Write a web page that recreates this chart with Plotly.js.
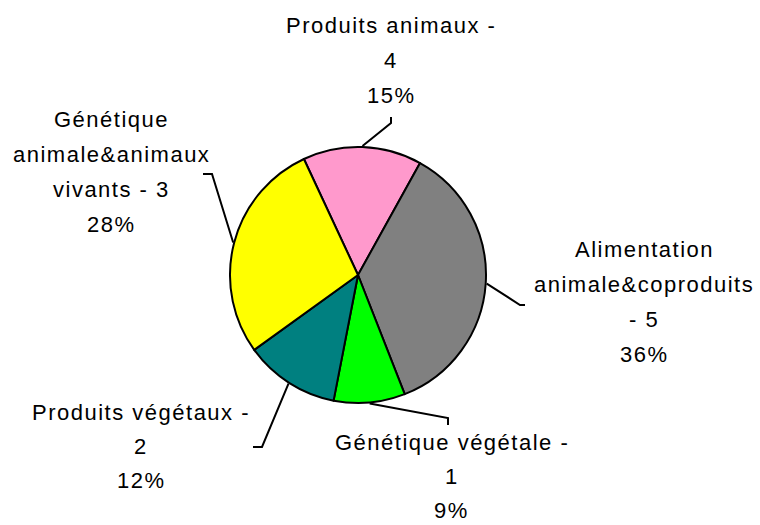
<!DOCTYPE html>
<html>
<head>
<meta charset="utf-8">
<script src="https://cdn.plot.ly/plotly-3.0.1.min.js"></script>
<style>
  html, body { margin: 0; padding: 0; background: #fff; }
  #chart { width: 760px; height: 525px; }
  .annotation-text { letter-spacing: 1.5px; }
</style>
</head>
<body>
<div id="chart"></div>
<script>
// ---- data ----
var categories = ["Produits animaux", "Alimentation animale&coproduits", "Génétique végétale", "Produits végétaux", "Génétique animale&animaux vivants"];
var codes = [4, 5, 1, 2, 3];
var values = [15, 36, 9, 12, 28];
var colors = ["#FF99CC", "#808080", "#00FF00", "#008080", "#FFFF00"];
// wrapped label lines (text as wrapped in the picture, without the percentage)
var labelLines = [
  ["Produits animaux -", "4"],
  ["Alimentation", "animale&coproduits", "- 5"],
  ["Génétique végétale -", "1"],
  ["Produits végétaux -", "2"],
  ["Génétique", "animale&animaux", "vivants - 3"]
];

// ---- layout constants (pixels) ----
var W = 760, H = 525;
var CX = 358, CY = 275, R = 128;      // pie centre & radius
var ROT = -25;                          // start angle of first slice (deg, clockwise from 12 o'clock)
// label anchor: text centre x, first baseline y, line step; leader elbow and end points
var labelPos = [
  {x: 391, y: 33,  step: 35,   elbow: [391, 123], end: [391, 117]},
  {x: 644, y: 257, step: 35,   elbow: [520, 305], end: [525, 305]},
  {x: 452, y: 450, step: 34,   elbow: [448, 418], end: [448, 425]},
  {x: 141, y: 420, step: 34,   elbow: [262, 447], end: [253, 447]},
  {x: 112, y: 127, step: 35,   elbow: [212, 174], end: [203, 174]}
];

function px(x) { return x / W; }
function py(y) { return 1 - y / H; }

var total = values.reduce(function (a, b) { return a + b; }, 0);
var annotations = [];
var shapes = [];
var cum = 0;
for (var i = 0; i < values.length; i++) {
  var mid = ROT + (cum + values[i] / 2) / total * 360;
  cum += values[i];
  var a = mid * Math.PI / 180;
  var ex = CX + (R + 1) * Math.sin(a);
  var ey = CY - (R + 1) * Math.cos(a);
  var lp = labelPos[i];
  shapes.push({
    type: 'path', xref: 'paper', yref: 'paper',
    path: 'M ' + px(ex) + ' ' + py(ey) + ' L ' + px(lp.elbow[0]) + ' ' + py(lp.elbow[1]) +
          ' L ' + px(lp.end[0]) + ' ' + py(lp.end[1]),
    line: {color: '#000', width: 2}
  });
  var lines = labelLines[i].concat([Math.round(values[i] / total * 100) + '%']);
  for (var j = 0; j < lines.length; j++) {
    var base = lp.y + j * lp.step;
    annotations.push({
      xref: 'paper', yref: 'paper',
      x: px(lp.x), y: py(base - 7.6),
      xanchor: 'center', yanchor: 'middle',
      text: lines[j], showarrow: false, borderpad: 0,
      font: {family: '"Liberation Sans", Arial, sans-serif', size: 22, color: '#000'}
    });
  }
}

var trace = {
  type: 'pie',
  labels: categories,
  values: values,
  sort: false,
  direction: 'clockwise',
  rotation: ROT,
  textinfo: 'none',
  hoverinfo: 'label+percent',
  marker: {colors: colors, line: {color: '#000', width: 2}},
  domain: {x: [px(CX - R), px(CX + R)], y: [py(CY + R), py(CY - R)]},
  showlegend: false
};

var layout = {
  width: W, height: H,
  margin: {l: 0, r: 0, t: 0, b: 0},
  paper_bgcolor: '#fff',
  showlegend: false,
  annotations: annotations,
  shapes: shapes
};

Plotly.newPlot('chart', [trace], layout, {displayModeBar: false, staticPlot: true});
</script>
</body>
</html>
